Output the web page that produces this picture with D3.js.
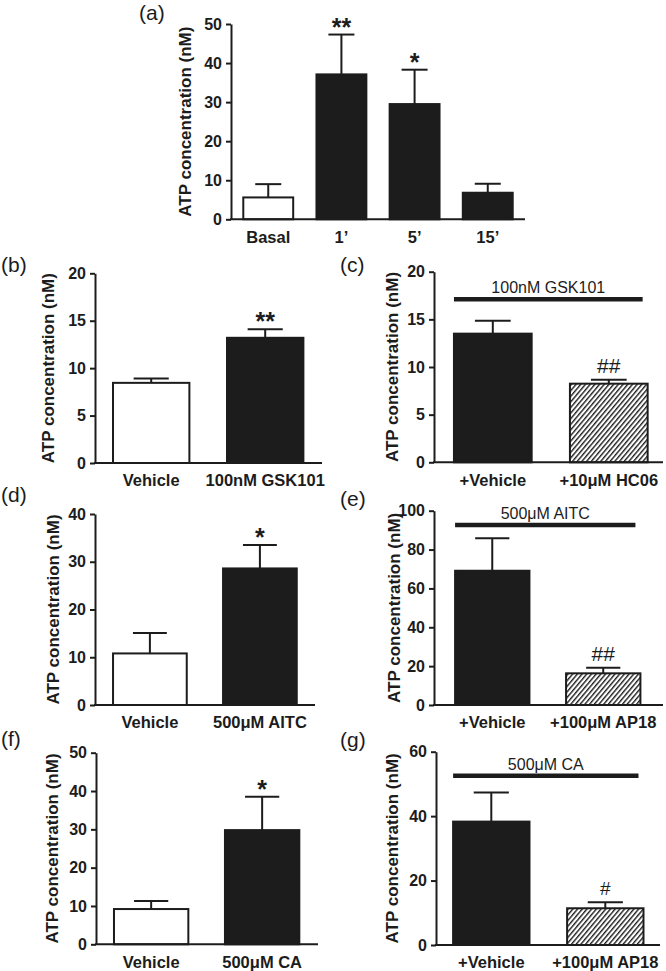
<!DOCTYPE html>
<html>
<head>
<meta charset="utf-8">
<script src="https://cdn.jsdelivr.net/npm/d3@7/dist/d3.min.js"></script>
<style>
  html, body { margin: 0; padding: 0; background: #fff; }
  svg { display: block; font-family: "Liberation Sans", Arial, sans-serif; }
</style>
</head>
<body>
<svg id="chart" width="666" height="971"></svg>
<script>
// ---------------- DATA ----------------
const yTitle = "ATP concentration (nM)";

const aCats = ["Basal", "1\u2019", "5\u2019", "15\u2019"];
const aMean = [5.6, 37.1, 29.5, 6.8];
const aSem  = [3.4, 10.2, 8.8, 2.3];
const aFill = ["white", "black", "black", "black"];
const aSig  = ["", "**", "*", ""];
const aTicks = [0, 10, 20, 30, 40, 50];

const bCats = ["Vehicle", "100nM GSK101"];
const bMean = [8.45, 13.2];
const bSem  = [0.45, 0.9];
const bFill = ["white", "black"];
const bSig  = ["", "**"];
const bTicks = [0, 5, 10, 15, 20];

const cCats = ["+Vehicle", "+10\u03bcM HC06"];
const cMean = [13.5, 8.25];
const cSem  = [1.35, 0.42];
const cFill = ["black", "hatch"];
const cSig  = ["", "##"];
const cTicks = [0, 5, 10, 15, 20];
const cTreat = "100nM GSK101";

const dCats = ["Vehicle", "500\u03bcM AITC"];
const dMean = [10.8, 28.6];
const dSem  = [4.3, 4.9];
const dFill = ["white", "black"];
const dSig  = ["", "*"];
const dTicks = [0, 10, 20, 30, 40];

const eCats = ["+Vehicle", "+100\u03bcM AP18"];
const eMean = [69.1, 16.3];
const eSem  = [16.7, 2.9];
const eFill = ["black", "hatch"];
const eSig  = ["", "##"];
const eTicks = [0, 20, 40, 60, 80, 100];
const eTreat = "500\u03bcM AITC";

const fCats = ["Vehicle", "500\u03bcM CA"];
const fMean = [9.2, 29.8];
const fSem  = [2.1, 8.7];
const fFill = ["white", "black"];
const fSig  = ["", "*"];
const fTicks = [0, 10, 20, 30, 40, 50];

const gCats = ["+Vehicle", "+100\u03bcM AP18"];
const gMean = [38.3, 11.4];
const gSem  = [9.0, 1.9];
const gFill = ["black", "hatch"];
const gSig  = ["", "#"];
const gTicks = [0, 20, 40, 60];
const gTreat = "500\u03bcM CA";

// ---------------- LAYOUT ----------------
const panels = [
  { id: "(a)", lx: 139, ly: 19.5, cats: aCats, mean: aMean, sem: aSem, fill: aFill, sig: aSig, ticks: aTicks,
    axisX: 231, xEnd: 525, band: [231, 525], pi: 0.318, po: 0.168, y0: 219.3, yTop: 24, titleX: 185, capMin: 26 },
  { id: "(b)", lx: 1, ly: 272.3, cats: bCats, mean: bMean, sem: bSem, fill: bFill, sig: bSig, ticks: bTicks,
    axisX: 95, xEnd: 322, band: [95, 321.4], pi: 0.33, po: 0.158, y0: 463, yTop: 273.3, titleX: 48 },
  { id: "(c)", lx: 340, ly: 272.3, cats: cCats, mean: cMean, sem: cSem, fill: cFill, sig: cSig, ticks: cTicks, treat: cTreat,
    treatY: 299.3, axisX: 434, xEnd: 663, band: [434, 667.6], pi: 0.33, po: 0.172, y0: 462.3, yTop: 271.7, titleX: 392 },
  { id: "(d)", lx: 1, ly: 502.3, cats: dCats, mean: dMean, sem: dSem, fill: dFill, sig: dSig, ticks: dTicks,
    axisX: 95, xEnd: 315, band: [95, 314.8], pi: 0.33, po: 0.164, y0: 705, yTop: 514, titleX: 53 },
  { id: "(e)", lx: 340, ly: 505.6, cats: eCats, mean: eMean, sem: eSem, fill: eFill, sig: eSig, ticks: eTicks, treat: eTreat,
    treatY: 525, axisX: 434, xEnd: 663, band: [434, 661.5], pi: 0.33, po: 0.19, y0: 705, yTop: 510.7, titleX: 394 },
  { id: "(f)", lx: 1, ly: 745.6, cats: fCats, mean: fMean, sem: fSem, fill: fFill, sig: fSig, ticks: fTicks,
    axisX: 96, xEnd: 318, band: [96, 317.3], pi: 0.33, po: 0.162, y0: 944.3, yTop: 752.7, titleX: 52 },
  { id: "(g)", lx: 340, ly: 747.3, cats: gCats, mean: gMean, sem: gSem, fill: gFill, sig: gSig, ticks: gTicks, treat: gTreat,
    treatY: 775.7, axisX: 436, xEnd: 660, band: [436, 660.6], pi: 0.33, po: 0.15, y0: 945, yTop: 751.7, titleX: 392 }
];

const INK = "#1c1c1c";
const svg = d3.select("#chart");

// hatch pattern
const defs = svg.append("defs");
const pat = defs.append("pattern")
  .attr("id", "hatch").attr("patternUnits", "userSpaceOnUse")
  .attr("width", 3.6).attr("height", 10)
  .attr("patternTransform", "rotate(40)");
pat.append("rect").attr("width", 3.6).attr("height", 10).attr("fill", "white");
pat.append("line").attr("x1", 0.7).attr("y1", 0).attr("x2", 0.7).attr("y2", 10)
  .attr("stroke", INK).attr("stroke-width", 1.4);

function fillOf(f) {
  if (f === "hatch") return "url(#hatch)";
  if (f === "black") return INK;
  return "white";
}

panels.forEach(p => {
  const g = svg.append("g");
  const x = d3.scaleBand().domain(p.cats).range(p.band).paddingInner(p.pi).paddingOuter(p.po);
  const ymax = p.ticks[p.ticks.length - 1];
  const y = d3.scaleLinear().domain([0, ymax]).range([p.y0, p.yTop]);
  const bw = x.bandwidth();
  const capW = Math.max(p.capMin || 0, bw * 0.46);

  const rows = p.cats.map((c, i) => ({ c, m: p.mean[i], s: p.sem[i], f: p.fill[i], sig: p.sig[i] }));

  // error bars (upper only)
  const eb = g.append("g").attr("stroke", INK).attr("stroke-width", 2).attr("fill", "none");
  eb.selectAll("line.v").data(rows).join("line")
    .attr("x1", d => x(d.c) + bw / 2).attr("x2", d => x(d.c) + bw / 2)
    .attr("y1", d => y(d.m)).attr("y2", d => y(d.m + d.s));
  eb.selectAll("line.h").data(rows).join("line")
    .attr("x1", d => x(d.c) + bw / 2 - capW / 2).attr("x2", d => x(d.c) + bw / 2 + capW / 2)
    .attr("y1", d => y(d.m + d.s)).attr("y2", d => y(d.m + d.s));

  // bars
  g.selectAll("rect.bar").data(rows).join("rect")
    .attr("x", d => x(d.c)).attr("width", bw)
    .attr("y", d => y(d.m)).attr("height", d => y(0) - y(d.m))
    .attr("fill", d => fillOf(d.f))
    .attr("stroke", INK).attr("stroke-width", 2);

  // significance marks
  g.selectAll("text.sig").data(rows.filter(d => d.sig)).join("text")
    .attr("x", d => x(d.c) + bw / 2)
    .attr("y", d => d.sig.startsWith("*") ? y(d.m + d.s) + 1 : y(d.m + d.s) - 7)
    .attr("text-anchor", "middle")
    .attr("font-size", d => d.sig.startsWith("*") ? 25 : (d.sig.length > 1 ? 21 : 19))
    .attr("font-weight", d => d.sig.startsWith("*") ? "bold" : "normal")
    .attr("fill", INK)
    .text(d => d.sig);

  // y axis
  const ya = d3.axisLeft(y).tickValues(p.ticks).tickSize(5).tickPadding(4).tickSizeOuter(0);
  const yg = g.append("g").attr("transform", `translate(${p.axisX},0)`).call(ya);
  yg.select(".domain").attr("stroke", INK).attr("stroke-width", 2);
  yg.selectAll(".tick line").attr("stroke", INK).attr("stroke-width", 2);
  yg.selectAll(".tick text").attr("font-size", 16).attr("font-weight", "bold").attr("fill", INK)
    .attr("font-family", "Liberation Sans, Arial, sans-serif");

  // x axis
  const xa = d3.axisBottom(x).tickSize(0).tickPadding(11.5);
  const xg = g.append("g").attr("transform", `translate(0,${p.y0})`).call(xa);
  xg.select(".domain").remove();
  xg.selectAll(".tick text").attr("font-size", 16.5).attr("font-weight", "bold").attr("fill", INK)
    .attr("font-family", "Liberation Sans, Arial, sans-serif");
  g.append("line").attr("x1", p.axisX - 1).attr("x2", p.xEnd).attr("y1", p.y0).attr("y2", p.y0)
    .attr("stroke", INK).attr("stroke-width", 2);

  // y title
  g.append("text")
    .attr("transform", `translate(${p.titleX},${(p.y0 + p.yTop) / 2}) rotate(-90)`)
    .attr("text-anchor", "middle").attr("dy", "0.35em")
    .attr("font-size", 17).attr("font-weight", "bold").attr("fill", INK)
    .text(yTitle);

  // panel label
  g.append("text").attr("x", p.lx).attr("y", p.ly)
    .attr("font-size", 21).attr("fill", INK).text(p.id);

  // treatment bar
  if (p.treat) {
    const x1 = x(p.cats[0]);
    const x2 = x(p.cats[p.cats.length - 1]) + bw - 5;
    const ly = p.treatY;
    g.append("line").attr("x1", x1).attr("x2", x2).attr("y1", ly).attr("y2", ly)
      .attr("stroke", INK).attr("stroke-width", 4.5);
    g.append("text").attr("x", (x1 + x2) / 2).attr("y", ly - 6)
      .attr("text-anchor", "middle").attr("font-size", 16).attr("fill", INK)
      .text(p.treat);
  }
});
</script>
</body>
</html>
